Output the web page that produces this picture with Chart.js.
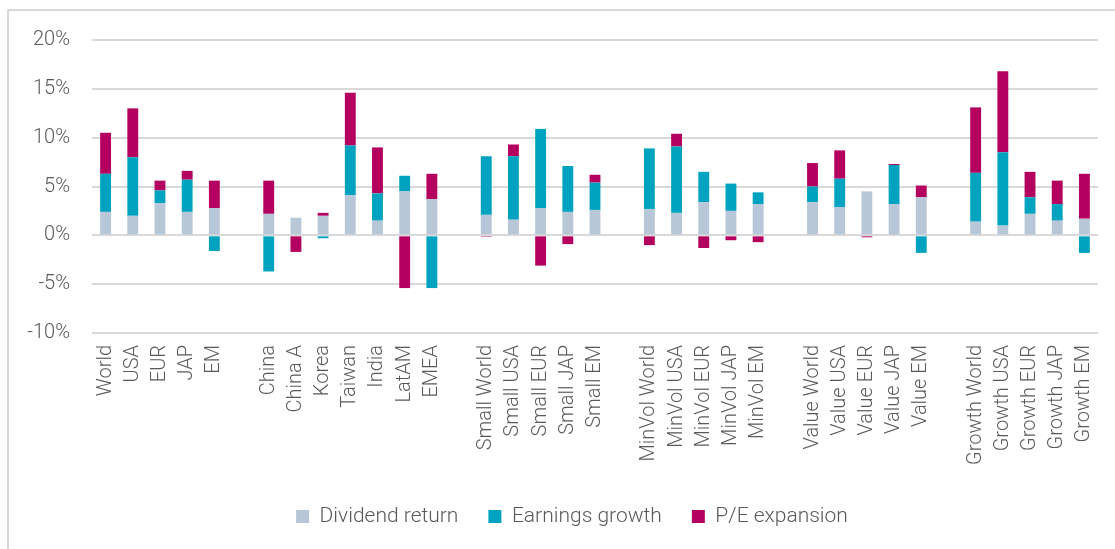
<!DOCTYPE html>
<html>
<head>
<meta charset="utf-8">
<script src="https://cdn.jsdelivr.net/npm/chart.js@4"></script>
<style>
  html, body { margin: 0; padding: 0; background: #fff; }
  #wrap { position: relative; width: 1115px; height: 549px; overflow: hidden; }
  #frame { position: absolute; left: 7px; top: 9px; width: 1200px; height: 600px;
           border-left: 2px solid #d9d9d9; border-top: 2px solid #d9d9d9; }
  canvas { position: absolute; left: 0; top: 0; }
</style>
</head>
<body>
<div id="wrap">
  <div id="frame"></div>
  <canvas id="chart" width="1115" height="549"></canvas>
</div>
<script>
// empty strings are the gaps between groups
const categories = [
  'World', 'USA', 'EUR', 'JAP', 'EM', '',
  'China', 'China A', 'Korea', 'Taiwan', 'India', 'LatAM', 'EMEA', '',
  'Small World', 'Small USA', 'Small EUR', 'Small JAP', 'Small EM', '',
  'MinVol World', 'MinVol USA', 'MinVol EUR', 'MinVol JAP', 'MinVol EM', '',
  'Value World', 'Value USA', 'Value EUR', 'Value JAP', 'Value EM', '',
  'Growth World', 'Growth USA', 'Growth EUR', 'Growth JAP', 'Growth EM'
];

const dividendReturn = [
  2.4, 2.0, 3.3, 2.4, 2.8, null,
  2.2, 1.8, 2.0, 4.1, 1.5, 4.5, 3.7, null,
  2.1, 1.6, 2.8, 2.4, 2.6, null,
  2.7, 2.3, 3.4, 2.5, 3.2, null,
  3.4, 2.9, 4.5, 3.2, 3.9, null,
  1.4, 1.0, 2.2, 1.5, 1.7
];

const earningsGrowth = [
  3.9, 6.0, 1.3, 3.3, -1.6, null,
  -3.7, 0, -0.3, 5.1, 2.8, 1.6, -5.4, null,
  6.0, 6.5, 8.1, 4.7, 2.8, null,
  6.2, 6.8, 3.1, 2.8, 1.2, null,
  1.6, 2.9, 0, 4.0, -1.8, null,
  5.0, 7.5, 1.7, 1.7, -1.8
];

const peExpansion = [
  4.2, 5.0, 1.0, 0.9, 2.8, null,
  3.4, -1.7, 0.3, 5.4, 4.7, -5.4, 2.6, null,
  -0.15, 1.2, -3.1, -0.9, 0.8, null,
  -1.0, 1.3, -1.3, -0.5, -0.7, null,
  2.4, 2.9, -0.2, 0.1, 1.2, null,
  6.7, 8.3, 2.6, 2.4, 4.6
];

const yTicks = [-10, -5, 0, 5, 10, 15, 20];

const textColor = '#595959';
Chart.defaults.font.family = 'Roboto, "Liberation Sans", sans-serif';
Chart.defaults.font.weight = '300';
Chart.defaults.color = textColor;

// nudge the legend right, it sits a bit off the canvas centre in the original
const legendShift = {
  id: 'legendShift',
  afterLayout(chart) {
    chart.legend.left += 23;
    chart.legend.right += 23;
  }
};

const ctx = document.getElementById('chart').getContext('2d');

new Chart(ctx, {
  type: 'bar',
  data: {
    labels: categories,
    datasets: [
      { label: 'Dividend return', data: dividendReturn, backgroundColor: '#b7c7d7' },
      { label: 'Earnings growth', data: earningsGrowth, backgroundColor: '#00a3bf' },
      { label: 'P/E expansion', data: peExpansion, backgroundColor: '#b4005f' }
    ]
  },
  options: {
    responsive: false,
    animation: false,
    layout: { padding: { left: 0, right: 17, top: 40, bottom: 12 } },
    datasets: {
      bar: { barPercentage: 0.5, categoryPercentage: 0.8, borderWidth: 0 }
    },
    scales: {
      x: {
        stacked: true,
        grid: { display: false },
        border: { display: false },
        ticks: {
          autoSkip: false,
          maxRotation: 90,
          minRotation: 90,
          padding: 4,
          font: { size: 20 },
          color: textColor
        },
        afterFit: (scale) => { scale.height = 143; }
      },
      y: {
        stacked: true,
        min: -10,
        max: 20,
        afterBuildTicks: (scale) => { scale.ticks = yTicks.map(v => ({ value: v })); },
        grid: { color: '#d9d9d9', lineWidth: 2, drawTicks: false },
        border: { display: false },
        ticks: {
          padding: 22,
          font: { size: 20 },
          color: textColor,
          callback: (v) => v + '%'
        },
        afterFit: (scale) => { scale.width = 92; }
      }
    },
    plugins: {
      tooltip: { enabled: false },
      legend: {
        position: 'bottom',
        labels: {
          boxWidth: 13,
          boxHeight: 13,
          padding: 30,
          font: { size: 21 },
          color: textColor
        }
      }
    }
  },
  plugins: [legendShift]
});
</script>
</body>
</html>
